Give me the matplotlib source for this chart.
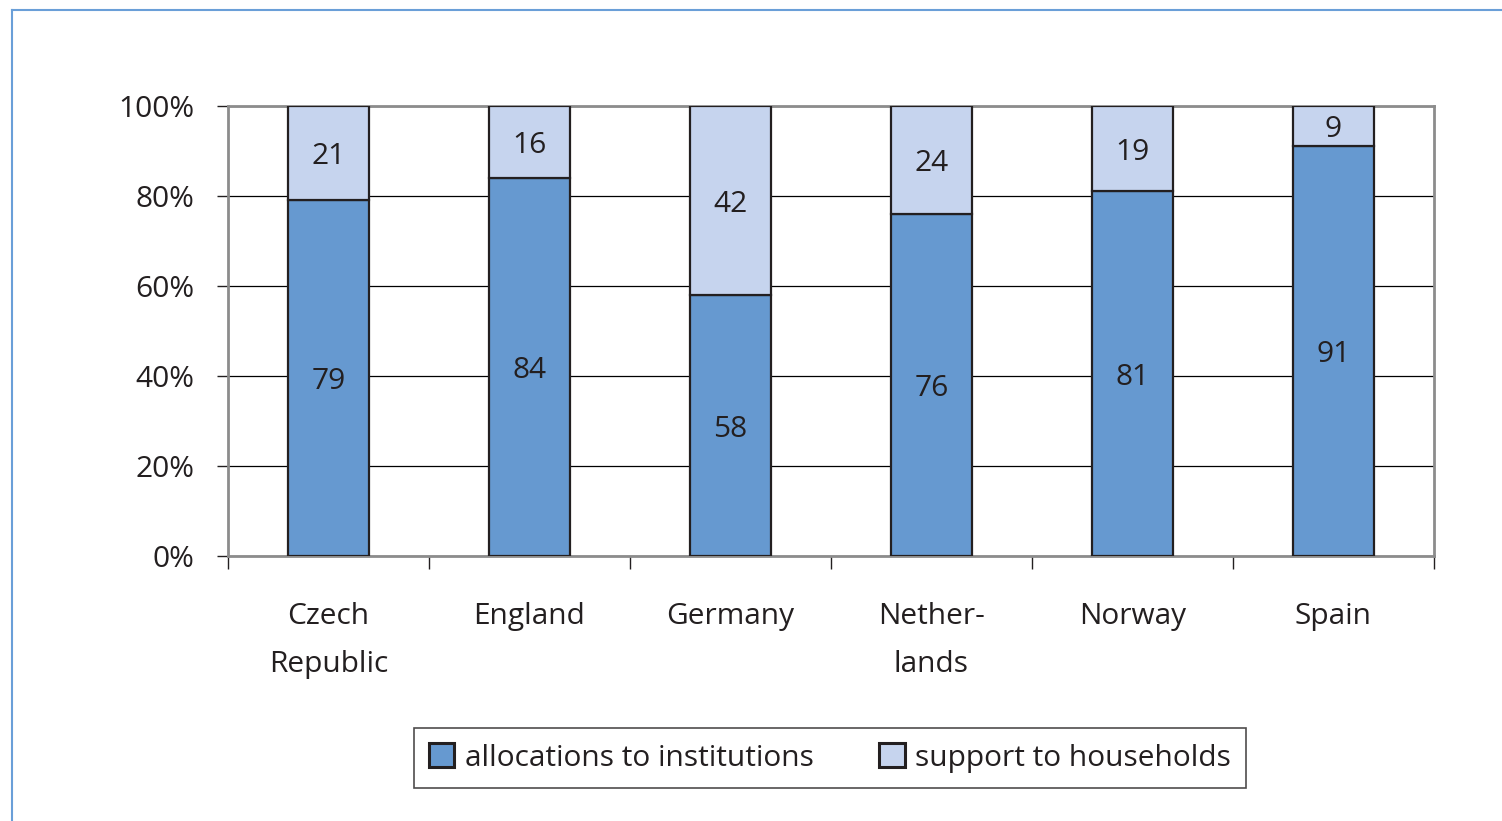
import matplotlib.pyplot as plt
import numpy as np
from matplotlib.lines import Line2D
from matplotlib.patches import Patch

countries = ['Czech\nRepublic', 'England', 'Germany', 'Nether-\nlands', 'Norway', 'Spain']
institutions = [79, 84, 58, 76, 81, 91]
households = [21, 16, 42, 24, 19, 9]

plt.rcParams['font.family'] = ['Open Sans', 'DejaVu Sans']
txt = '#231f20'
dark = '#6699d0'
light = '#c6d4ee'
fs = 21.5

fig = plt.figure(figsize=(15.02, 8.21), dpi=100)
ax = fig.add_axes([228/1502, 1-556/821, 1206/1502, 450/821])

x = np.arange(len(countries))
ax.bar(x, institutions, width=0.4, color=dark, edgecolor=txt, linewidth=1.6, zorder=3)
ax.bar(x, households, width=0.4, bottom=institutions, color=light, edgecolor=txt, linewidth=1.6, zorder=3)

for i in range(len(countries)):
    ax.text(x[i], institutions[i]/2 - 0.8, str(institutions[i]), ha='center', va='center',
            fontsize=fs, color=txt, zorder=4)
    ax.text(x[i], institutions[i] + households[i]/2 - 0.8, str(households[i]), ha='center', va='center',
            fontsize=fs, color=txt, zorder=4)

ax.set_xlim(-0.5, 5.5)
ax.set_ylim(0, 100)
ax.set_yticks(range(0, 101, 20))
ax.set_yticklabels([str(v) + '%' for v in range(0, 101, 20)])
ax.yaxis.grid(True, color='black', linewidth=0.9, zorder=0)
ax.set_xticks(x)
ax.set_xticklabels(countries, linespacing=1.85)
ax.set_xticks(np.arange(-0.5, 6, 1), minor=True)
ax.tick_params(axis='x', which='major', length=0, pad=33, labelsize=fs, labelcolor=txt)
ax.tick_params(axis='x', which='minor', length=9, width=1, color=txt, direction='out')
ax.tick_params(axis='y', length=8, width=1, color=txt, pad=16, labelsize=fs, labelcolor=txt)
for s in ax.spines.values():
    s.set_color('#8c8c8c')
    s.set_linewidth(2)

handles = [Patch(facecolor=dark, edgecolor=txt, linewidth=2.2),
           Patch(facecolor=light, edgecolor=txt, linewidth=2.2)]
leg = fig.legend(handles, ['allocations to institutions', 'support to households'],
                 loc='center', bbox_to_anchor=(830/1502, 1-758/821), ncol=2,
                 fontsize=fs, frameon=True, fancybox=False, edgecolor=txt,
                 handlelength=0.85, handleheight=0.85, handletextpad=0.35, columnspacing=2.2,
                 borderpad=0.5)
leg.get_frame().set_linewidth(1.2)
for t in leg.get_texts():
    t.set_color(txt)

# light blue frame (top and left)
fig.add_artist(Line2D([12/1502, 1], [1-10/821, 1-10/821], color='#6a9fd8', linewidth=1.5))
fig.add_artist(Line2D([12/1502, 12/1502], [0, 1-10/821], color='#6a9fd8', linewidth=1.5))

fig.savefig('out.png', dpi=100)
